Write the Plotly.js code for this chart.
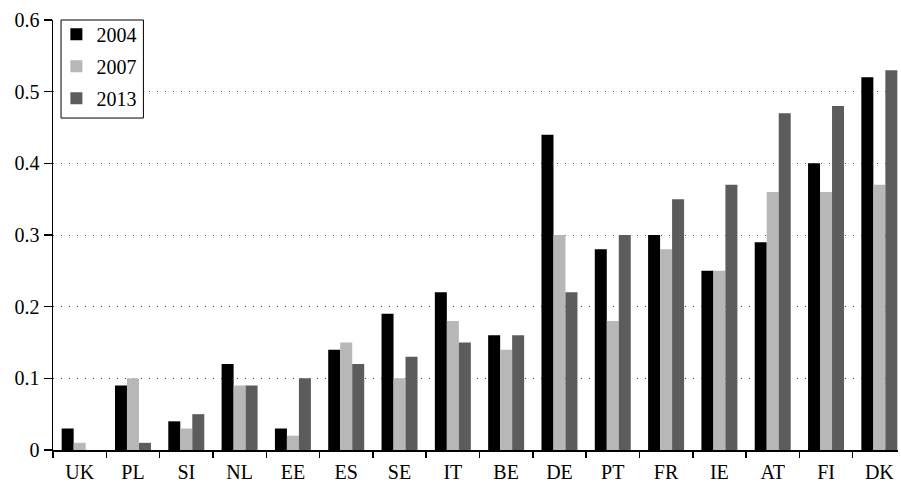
<!DOCTYPE html>
<html>
<head>
<meta charset="utf-8">
<script src="https://cdn.plot.ly/plotly-3.0.1.min.js"></script>
<style>html,body{margin:0;padding:0;background:#fff;}#chart{width:901px;height:483px;}</style>
</head>
<body>
<div id="chart"></div>
<script>
const countries = ["UK","PL","SI","NL","EE","ES","SE","IT","BE","DE","PT","FR","IE","AT","FI","DK"];
const v2004 = [0.03,0.09,0.04,0.12,0.03,0.14,0.19,0.22,0.16,0.44,0.28,0.30,0.25,0.29,0.40,0.52];
const v2007 = [0.01,0.10,0.03,0.09,0.02,0.15,0.10,0.18,0.14,0.30,0.18,0.28,0.25,0.36,0.36,0.37];
const v2013 = [0.00,0.01,0.05,0.09,0.10,0.12,0.13,0.15,0.16,0.22,0.30,0.35,0.37,0.47,0.48,0.53];
const seriesNames = ["2004","2007","2013"];
const seriesColors = ["#000000","#b7b7b7","#5c5c5c"];
const yTicks = [0,0.1,0.2,0.3,0.4,0.5,0.6];
const yTickText = ["0","0.1","0.2","0.3","0.4","0.5","0.6"];

const data = [v2004, v2007, v2013].map((vals, i) => ({
  type: "bar",
  x: countries,
  y: vals,
  name: seriesNames[i],
  legendgroup: "g" + i,
  marker: {color: seriesColors[i], line: {width: 0}}
}));

const font = {family: "Liberation Serif, Times New Roman, serif", size: 20, color: "#000"};

const layout = {
  width: 901, height: 483,
  margin: {l: 53, r: 3, t: 20, b: 33, pad: 0},
  paper_bgcolor: "#fff", plot_bgcolor: "#fff",
  font: font,
  barmode: "group",
  bargap: 0.325,
  bargroupgap: 0,
  showlegend: true,
  legend: {
    x: 0.004, y: 1.012, xanchor: "left", yanchor: "top",
    bgcolor: "rgba(0,0,0,0)", borderwidth: 0,
    font: font, tracegroupgap: 3, itemwidth: 30
  },
  shapes: [{
    type: "rect", xref: "paper", yref: "paper", layer: "above",
    x0: 0.0095, x1: 0.107, y0: 0.772, y1: 1.0,
    fillcolor: "#fff", line: {color: "#000", width: 1}
  }],
  xaxis: {
    type: "category",
    range: [-0.5, 15.35],
    showline: true, linecolor: "#000", linewidth: 1.5,
    ticks: "outside", tickson: "boundaries", ticklen: 6, tickcolor: "#000", tickwidth: 1.5,
    ticklabelstandoff: 3,
    showgrid: false, zeroline: false,
    tickfont: font
  },
  yaxis: {
    range: [0, 0.6],
    tickvals: yTicks, ticktext: yTickText,
    showline: true, linecolor: "#000", linewidth: 1.5,
    ticks: "outside", ticklen: 8, tickcolor: "#000", tickwidth: 1.5,
    showgrid: true, gridcolor: "#444", gridwidth: 1, griddash: "1px,7px",
    zeroline: false,
    tickfont: font
  }
};

Plotly.newPlot("chart", data, layout, {displayModeBar: false, staticPlot: true});
</script>
</body>
</html>
